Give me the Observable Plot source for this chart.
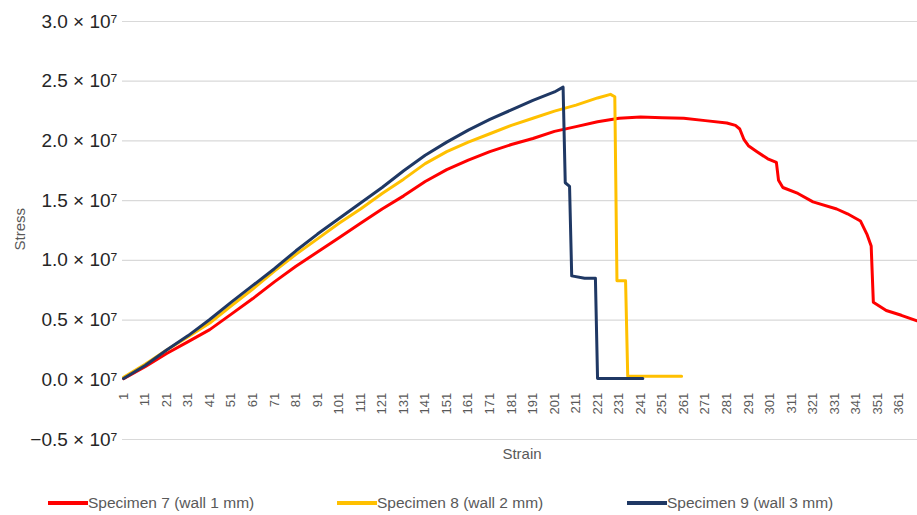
<!DOCTYPE html>
<html><head><meta charset="utf-8">
<script src="https://cdn.jsdelivr.net/npm/d3@7"></script>
<script src="https://cdn.jsdelivr.net/npm/@observablehq/plot@0.6"></script>
<style>
body{margin:0;background:#fff;font-family:"Liberation Sans",Arial,sans-serif;}
#chart{width:917px;height:490px;}
#legend{position:relative;width:917px;height:25px;}
.item{position:absolute;top:0;height:25px;display:flex;align-items:center;font-size:15.5px;color:#595959;white-space:nowrap;}
.swatch{display:inline-block;width:40px;height:4px;}
</style></head><body>
<div id="chart"></div>
<div id="legend"></div>
<script>
// categories / tick labels
const strainTicks = [1,11,21,31,41,51,61,71,81,91,101,111,121,131,141,151,161,171,181,191,201,211,221,231,241,251,261,271,281,291,301,311,321,331,341,351,361];
const stressTicks = [-5,5,10,15,20,25,30]; // in 10^6 units
const seriesNames = ["Specimen 7 (wall 1 mm)","Specimen 8 (wall 2 mm)","Specimen 9 (wall 3 mm)"];
const seriesColors = ["#ff0000","#ffc000","#1f3864"];

// [strain index, stress in 10^6]
const spec7 = [[1,0.1],[11,1.1],[21,2.2],[31,3.2],[41,4.2],[51,5.5],[61,6.8],[71,8.2],[81,9.5],[91,10.7],[101,11.9],[111,13.1],[121,14.3],[131,15.4],[141,16.6],[151,17.6],[161,18.4],[171,19.1],[181,19.7],[191,20.2],[201,20.8],[211,21.2],[221,21.6],[231,21.9],[241,22.0],[251,21.95],[261,21.9],[271,21.7],[281,21.5],[285,21.3],[287,21.0],[289,20.1],[291,19.6],[295,19.1],[300,18.5],[304,18.2],[305,16.7],[307,16.1],[314,15.6],[321,14.9],[332,14.3],[337,13.9],[343,13.3],[346,12.2],[348,11.2],[349,6.5],[355,5.8],[362,5.4],[369,4.95]];
const spec8 = [[1,0.2],[11,1.3],[21,2.5],[31,3.6],[41,4.75],[51,6.2],[61,7.6],[71,9.1],[81,10.5],[91,11.8],[101,13.1],[111,14.3],[121,15.6],[131,16.8],[141,18.1],[151,19.1],[161,19.9],[171,20.6],[181,21.3],[191,21.9],[201,22.5],[211,23.0],[221,23.6],[227,23.9],[229,23.7],[230,8.3],[234,8.3],[235,0.3],[260,0.3]];
const spec9 = [[1,0.1],[11,1.2],[21,2.5],[31,3.7],[41,5.05],[51,6.5],[61,7.9],[71,9.3],[81,10.8],[91,12.2],[101,13.5],[111,14.8],[121,16.1],[131,17.5],[141,18.8],[151,19.9],[161,20.9],[171,21.8],[181,22.6],[191,23.4],[201,24.1],[205,24.5],[206,16.5],[208,16.2],[209,8.7],[215,8.5],[220,8.5],[221,0.1],[242,0.1]];

const fmt = v => (v < 0 ? "\u2212" : "") + (Math.abs(v) / 10).toFixed(1) + " \u00d7 10\u2077";
const series = [spec7, spec8, spec9];

const chart = Plot.plot({
  width: 917,
  height: 490,
  marginLeft: 122,
  marginRight: 0,
  marginTop: 21,
  marginBottom: 51,
  style: {fontFamily: "'Liberation Sans', Arial, sans-serif", background: "#fff"},
  x: {domain: [0.5, 369.5], axis: null},
  y: {domain: [-5, 30], axis: null},
  marks: [
    Plot.ruleY(stressTicks, {stroke: "#d9d9d9", strokeWidth: 1.2}),
    Plot.axisY([0, ...stressTicks], {tickSize: 0, tickPadding: 5, tickFormat: fmt, fontSize: 19, fill: "#262626", label: null}),
    Plot.text(strainTicks, {x: d => d, y: () => 0, text: d => String(d), rotate: -90, textAnchor: "end", dy: 13, fontSize: 13, fill: "#595959"}),
    ...series.map((s, i) => Plot.line(s, {x: d => d[0], y: d => d[1], stroke: seriesColors[i], strokeWidth: 3, strokeLinejoin: "round"})),
    Plot.text(["Stress"], {frameAnchor: "left", dx: -102, dy: 20, rotate: -90, fontSize: 15, fill: "#595959"}),
    Plot.text(["Strain"], {frameAnchor: "bottom", dx: 2, dy: 19, fontSize: 15, fill: "#595959"})
  ]
});
document.getElementById("chart").appendChild(chart);

const legendLefts = [48, 337, 627];
const legend = document.getElementById("legend");
seriesNames.forEach((name, i) => {
  const item = document.createElement("div");
  item.className = "item";
  item.style.left = legendLefts[i] + "px";
  const sw = document.createElement("span");
  sw.className = "swatch";
  sw.style.background = seriesColors[i];
  const t = document.createElement("span");
  t.textContent = name;
  item.appendChild(sw);
  item.appendChild(t);
  legend.appendChild(item);
});
</script>
</body></html>
